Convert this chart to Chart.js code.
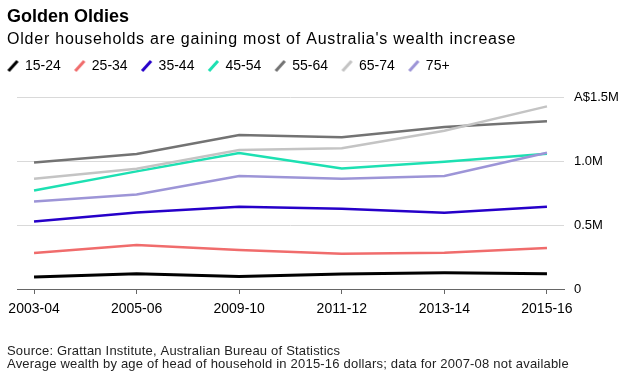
<!DOCTYPE html>
<html>
<head>
<meta charset="utf-8">
<script src="https://cdn.jsdelivr.net/npm/chart.js@4"></script>
<style>
  html, body { margin: 0; padding: 0; background: #fff; }
  canvas { display: block; }
</style>
</head>
<body>
<canvas id="chart" width="632" height="384"></canvas>
<script>
// survey years (2007-08 not available)
const years = ['2003-04', '2005-06', '2009-10', '2011-12', '2013-14', '2015-16'];
const yTickLabels = ['0', '0.5M', '1.0M', 'A$1.5M'];

// average wealth, A$ millions
const age15to24 = [0.094, 0.120, 0.098, 0.117, 0.127, 0.120];
const age25to34 = [0.281, 0.344, 0.305, 0.276, 0.284, 0.320];
const age35to44 = [0.528, 0.598, 0.643, 0.627, 0.596, 0.643];
const age45to54 = [0.770, 0.919, 1.062, 0.942, 0.995, 1.057];
const age55to64 = [0.989, 1.055, 1.203, 1.185, 1.266, 1.310];
const age65to74 = [0.862, 0.940, 1.086, 1.100, 1.237, 1.427];
const age75plus = [0.684, 0.739, 0.883, 0.862, 0.883, 1.065];

const series = [
  { label: '15-24', values: age15to24, color: '#000000', width: 3 },
  { label: '25-34', values: age25to34, color: '#f06c6c', width: 2.5 },
  { label: '35-44', values: age35to44, color: '#2600c9', width: 2.5 },
  { label: '45-54', values: age45to54, color: '#1de0b2', width: 2.5 },
  { label: '55-64', values: age55to64, color: '#737373', width: 2.5 },
  { label: '65-74', values: age65to74, color: '#c4c4c4', width: 2.5 },
  { label: '75+',   values: age75plus, color: '#9d95d7', width: 2.5 }
];

const FONT = "'Liberation Sans', Arial, sans-serif";
Chart.defaults.font.family = FONT;
Chart.defaults.color = '#000';

// little slash used as legend marker
function slash(color) {
  const c = document.createElement('canvas');
  c.width = 13; c.height = 12;
  const g = c.getContext('2d');
  g.strokeStyle = color;
  g.lineWidth = 3;
  g.beginPath();
  g.moveTo(2, 11);
  g.lineTo(11, 1);
  g.stroke();
  return c;
}

const texts = {
  id: 'texts',
  afterDraw(chart) {
    const ctx = chart.ctx;
    ctx.save();
    ctx.fillStyle = '#000';
    ctx.textAlign = 'left';
    ctx.textBaseline = 'alphabetic';
    ctx.font = 'bold 18px ' + FONT;
    ctx.fillText('Golden Oldies', 7, 22);
    ctx.font = '16px ' + FONT;
    ctx.letterSpacing = '0.78px';
    ctx.fillText("Older households are gaining most of Australia's wealth increase", 7, 44);
    ctx.fillStyle = '#222';
    ctx.font = '13px ' + FONT;
    ctx.letterSpacing = '0.2px';
    ctx.fillText('Source: Grattan Institute, Australian Bureau of Statistics', 7, 355);
    ctx.fillText('Average wealth by age of head of household in 2015-16 dollars; data for 2007-08 not available', 7, 368);
    ctx.restore();
  }
};

// legend: fixed height above the plot, shifted a bit to the left edge
const legendTweak = {
  id: 'legendTweak',
  beforeInit(chart) {
    const lg = chart.legend;
    const fit = lg.fit;
    lg.fit = function () {
      fit.call(lg);
      this.height = 52;
    };
    const draw = lg.draw;
    lg.draw = function (area) {
      chart.ctx.save();
      chart.ctx.translate(-6, 0);
      draw.call(lg, area);
      chart.ctx.restore();
    };
  }
};

new Chart(document.getElementById('chart'), {
  type: 'line',
  data: {
    datasets: series.map((s, i) => ({
      label: s.label,
      data: s.values.map((v, j) => ({ x: j, y: v })),
      xAxisID: 'x',
      yAxisID: 'y',
      borderColor: s.color,
      backgroundColor: s.color,
      borderWidth: s.width,
      pointRadius: 0,
      pointHoverRadius: 0,
      pointStyle: slash(s.color),
      tension: 0,
      order: series.length - i
    }))
  },
  options: {
    responsive: false,
    animation: false,
    events: [],
    layout: { padding: { top: 45, left: 0, right: 0, bottom: 65 } },
    plugins: {
      tooltip: { enabled: false },
      legend: {
        position: 'top',
        align: 'start',
        labels: {
          usePointStyle: true,
          pointStyleWidth: 10,
          padding: 14,
          font: { size: 14 },
          color: '#000',
          sort: (a, b) => a.datasetIndex - b.datasetIndex
        }
      }
    },
    scales: {
      x: {
        type: 'linear',
        min: -0.166,
        max: 5.166,
        afterBuildTicks: s => { s.ticks = years.map((_, i) => ({ value: i })); },
        afterFit: s => { s.height = 30; },
        ticks: {
          callback: v => years[v],
          font: { size: 14 },
          padding: 7,
          maxRotation: 0,
          autoSkip: false
        },
        grid: {
          drawOnChartArea: false,
          drawTicks: true,
          tickLength: 5,
          color: '#666'
        },
        border: { display: true, color: '#666', width: 1 }
      },
      y: {
        position: 'right',
        min: 0,
        max: 1.5,
        afterFit: s => { s.width = 68; },
        ticks: {
          stepSize: 0.5,
          callback: (v, i) => yTickLabels[i],
          font: { size: 13 },
          padding: 10
        },
        grid: { color: '#d9d9d9', lineWidth: 1, drawTicks: false },
        border: { display: false }
      },
      pad: {
        type: 'linear',
        position: 'left',
        afterFit: s => { s.width = 17; },
        ticks: { display: false },
        grid: { display: false },
        border: { display: false }
      }
    }
  },
  plugins: [texts, legendTweak]
});
</script>
</body>
</html>
